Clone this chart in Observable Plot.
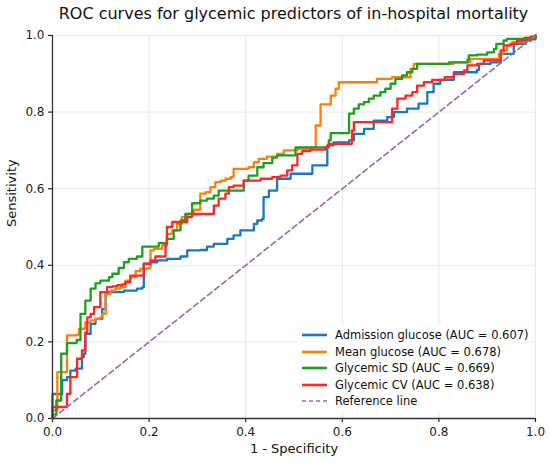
<!DOCTYPE html>
<html>
<head>
<meta charset="utf-8">
<script src="https://cdn.jsdelivr.net/npm/d3@7"></script>
<script src="https://cdn.jsdelivr.net/npm/@observablehq/plot@0.6"></script>
<style>
  html, body { margin: 0; padding: 0; background: #fff; }
  #wrap { position: relative; width: 550px; height: 463px; font-family: "DejaVu Sans", sans-serif; }
  #title { height: 26px; line-height: 27px; font-size: 16px; color: #111; text-align: center; padding-left: 52px; padding-right: 15px; box-sizing: border-box; white-space: nowrap; }
  #legend { position: absolute; left: 297px; top: 325px; width: 234px; height: 86px; background: rgba(255,255,255,0.9); box-sizing: border-box; font-size: 11.5px; color: #111; }
  .item { position: absolute; left: 5px; height: 14px; display: flex; align-items: center; white-space: nowrap; }
  .item svg { margin-right: 8px; }
</style>
</head>
<body>
<div id="wrap">
  <div id="title">ROC curves for glycemic predictors of in-hospital mortality</div>
  <div id="chart"></div>
  <div id="legend"></div>
</div>
<script>
// ---- data ----
const seriesNames = [
  "Admission glucose (AUC = 0.607)",
  "Mean glucose (AUC = 0.678)",
  "Glycemic SD (AUC = 0.669)",
  "Glycemic CV (AUC = 0.638)"
];
const seriesColors = ["#1a78c2", "#ff7f0e", "#1f9e1f", "#ff2626"];
const referenceLabel = "Reference line";
const referenceColor = "#9467bd";
const xTicks = [0, 0.2, 0.4, 0.6, 0.8, 1.0];
const yTicks = [0, 0.2, 0.4, 0.6, 0.8, 1.0];
const xLabel = "1 - Specificity";
const yLabel = "Sensitivity";

// [fpr, tpr] corner points of each ROC curve
const admissionGlucose = [[0,0],[0,0.064],[0.02,0.10],[0.03,0.108],[0.037,0.125],[0.048,0.13],[0.061,0.16],[0.065,0.169],[0.068,0.221],[0.079,0.247],[0.089,0.26],[0.103,0.286],[0.11,0.33],[0.148,0.334],[0.175,0.339],[0.186,0.343],[0.189,0.404],[0.203,0.408],[0.217,0.413],[0.237,0.417],[0.265,0.423],[0.279,0.439],[0.306,0.44],[0.32,0.449],[0.334,0.456],[0.362,0.469],[0.375,0.478],[0.389,0.491],[0.417,0.508],[0.424,0.517],[0.434,0.521],[0.437,0.578],[0.448,0.595],[0.465,0.626],[0.493,0.639],[0.538,0.661],[0.569,0.713],[0.582,0.721],[0.614,0.726],[0.624,0.743],[0.645,0.756],[0.665,0.778],[0.693,0.787],[0.707,0.80],[0.734,0.809],[0.758,0.822],[0.776,0.852],[0.789,0.874],[0.803,0.884],[0.831,0.904],[0.879,0.91],[0.883,0.926],[0.907,0.93],[0.928,0.952],[0.955,0.978],[0.98,0.99],[1,1]];
const meanGlucose = [[0,0],[0,0.021],[0.01,0.121],[0.03,0.217],[0.051,0.219],[0.055,0.234],[0.068,0.251],[0.079,0.256],[0.089,0.26],[0.099,0.264],[0.103,0.273],[0.11,0.325],[0.12,0.334],[0.13,0.339],[0.141,0.343],[0.151,0.36],[0.161,0.369],[0.172,0.385],[0.182,0.391],[0.199,0.393],[0.203,0.439],[0.21,0.443],[0.227,0.452],[0.237,0.482],[0.248,0.491],[0.258,0.508],[0.268,0.526],[0.279,0.534],[0.293,0.545],[0.306,0.587],[0.317,0.591],[0.327,0.604],[0.337,0.617],[0.348,0.621],[0.358,0.626],[0.369,0.63],[0.375,0.652],[0.406,0.656],[0.417,0.669],[0.427,0.678],[0.444,0.684],[0.465,0.691],[0.479,0.70],[0.507,0.704],[0.534,0.708],[0.545,0.713],[0.545,0.765],[0.555,0.82],[0.576,0.843],[0.586,0.861],[0.593,0.878],[0.672,0.887],[0.703,0.891],[0.741,0.913],[0.748,0.926],[0.83,0.93],[0.865,0.939],[0.924,0.952],[0.934,0.961],[0.941,0.974],[0.952,0.983],[0.98,0.995],[1,1]];
const glycemicSD = [[0,0],[0,0.01],[0.008,0.047],[0.018,0.169],[0.03,0.197],[0.05,0.205],[0.058,0.273],[0.068,0.308],[0.079,0.339],[0.089,0.353],[0.099,0.36],[0.117,0.369],[0.124,0.378],[0.137,0.393],[0.148,0.408],[0.158,0.417],[0.175,0.423],[0.186,0.449],[0.22,0.458],[0.237,0.469],[0.251,0.491],[0.265,0.517],[0.275,0.534],[0.289,0.562],[0.306,0.569],[0.32,0.574],[0.334,0.582],[0.344,0.595],[0.396,0.621],[0.406,0.634],[0.424,0.656],[0.437,0.667],[0.455,0.681],[0.465,0.687],[0.503,0.708],[0.572,0.726],[0.576,0.745],[0.614,0.796],[0.624,0.809],[0.634,0.82],[0.645,0.826],[0.655,0.835],[0.665,0.843],[0.679,0.852],[0.689,0.861],[0.70,0.874],[0.71,0.887],[0.724,0.896],[0.734,0.904],[0.745,0.913],[0.755,0.926],[0.821,0.93],[0.859,0.937],[0.862,0.948],[0.879,0.95],[0.90,0.956],[0.914,0.965],[0.919,0.978],[0.934,0.987],[0.941,0.991],[0.976,0.993],[1,1]];
const glycemicCV = [[0,0],[0,0.03],[0.03,0.064],[0.037,0.108],[0.051,0.156],[0.061,0.178],[0.068,0.225],[0.072,0.264],[0.079,0.273],[0.086,0.291],[0.099,0.33],[0.113,0.343],[0.124,0.345],[0.134,0.348],[0.144,0.35],[0.151,0.356],[0.161,0.373],[0.189,0.404],[0.203,0.413],[0.213,0.423],[0.234,0.456],[0.237,0.50],[0.248,0.513],[0.279,0.526],[0.289,0.534],[0.334,0.556],[0.344,0.574],[0.358,0.587],[0.365,0.604],[0.375,0.608],[0.396,0.621],[0.431,0.626],[0.455,0.63],[0.472,0.634],[0.486,0.648],[0.496,0.661],[0.507,0.691],[0.517,0.698],[0.534,0.702],[0.565,0.708],[0.572,0.717],[0.62,0.752],[0.624,0.774],[0.703,0.809],[0.714,0.835],[0.731,0.843],[0.745,0.852],[0.755,0.869],[0.769,0.878],[0.786,0.884],[0.812,0.891],[0.831,0.90],[0.852,0.909],[0.859,0.922],[0.879,0.926],[0.893,0.935],[0.928,0.961],[0.934,0.974],[0.948,0.978],[0.962,0.987],[0.99,0.997],[1,1]];
const referenceLine = [[0,0],[1,1]];

const curves = [admissionGlucose, meanGlucose, glycemicSD, glycemicCV];
const rows = [];
curves.forEach((pts, i) => pts.forEach(([fpr, tpr]) => rows.push({series: seriesNames[i], fpr, tpr})));
const refRows = referenceLine.map(([fpr, tpr]) => ({fpr, tpr}));

const fmt = d3.format(".1f");
const chart = Plot.plot({
  width: 550,
  height: 437,
  marginTop: 9,
  marginBottom: 45,
  marginLeft: 52,
  marginRight: 15,
  style: {fontFamily: "DejaVu Sans, sans-serif", color: "#222", background: "white", overflow: "visible"},
  x: {domain: [0, 1]},
  y: {domain: [0, 1]},
  color: {domain: seriesNames, range: seriesColors},
  marks: [
    Plot.gridX(xTicks, {stroke: "#e8e8e8", strokeOpacity: 1, strokeWidth: 1}),
    Plot.gridY(yTicks, {stroke: "#e8e8e8", strokeOpacity: 1, strokeWidth: 1}),
    Plot.axisX(xTicks, {tickFormat: fmt, tickSize: 4, tickPadding: 5, fontSize: 12, label: null, strokeWidth: 1.2}),
    Plot.axisY(yTicks, {tickFormat: fmt, tickSize: 4, tickPadding: 4, fontSize: 12, label: null, strokeWidth: 1.2}),
    Plot.line(rows, {x: "fpr", y: "tpr", z: "series", stroke: "series", curve: "step-after", strokeWidth: 2.3}),
    Plot.line(refRows, {x: "fpr", y: "tpr", stroke: referenceColor, strokeWidth: 1.6, strokeDasharray: "5.5,3.5"}),
    Plot.ruleX([0], {stroke: "#333", strokeWidth: 1.3}),
    Plot.ruleY([0], {stroke: "#333", strokeWidth: 1.3}),
    Plot.text([xLabel], {frameAnchor: "bottom", dy: 34, fontSize: 13, fill: "#111"}),
    Plot.text([yLabel], {frameAnchor: "left", dx: -41, rotate: -90, fontSize: 13, fill: "#111"})
  ]
});
document.getElementById("chart").appendChild(chart);

// legend
const legend = document.getElementById("legend");
const legendItems = seriesNames.map((n, i) => ({label: n, color: seriesColors[i], dash: null}))
  .concat([{label: referenceLabel, color: referenceColor, dash: "4,3"}]);
legendItems.forEach((it, i) => {
  const div = document.createElement("div");
  div.className = "item";
  div.style.top = (3 + i * 16.5) + "px";
  const w = it.dash ? 1.6 : 2.6;
  div.innerHTML = `<svg width="25" height="6"><line x1="0" y1="3" x2="25" y2="3" stroke="${it.color}" stroke-width="${w}" ${it.dash ? `stroke-dasharray="${it.dash}"` : ""}/></svg><span>${it.label}</span>`;
  legend.appendChild(div);
});
</script>
</body>
</html>
